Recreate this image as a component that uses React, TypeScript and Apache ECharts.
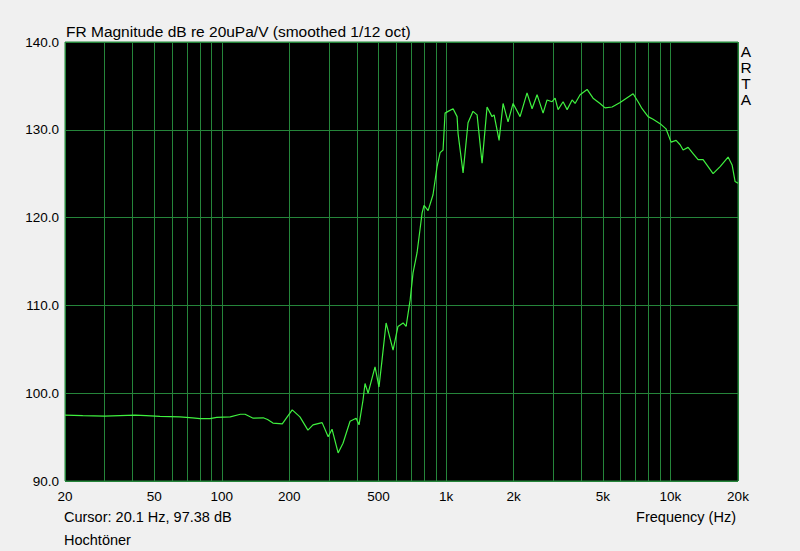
import React, { useEffect, useRef } from "react";
import * as echarts from "echarts";

// Frequency response (Hz -> dB re 20uPa/V)
const freqHz = [
  20, 24, 30, 41, 46, 53, 65, 74, 80, 88.6, 95, 109, 121, 127, 138, 153, 160, 169, 186,
  206, 223, 242, 255, 280, 298, 310, 330, 347, 373, 397, 409, 426, 435, 449, 482, 502,
  518, 540, 580, 610, 643, 663, 691, 712, 742, 781, 797, 831, 874, 911, 940, 969, 989,
  1020, 1074, 1119, 1130, 1190, 1252, 1318, 1374, 1446, 1522, 1602, 1636, 1722, 1794,
  1888, 1988, 2136, 2294, 2416, 2543, 2705, 2818, 2966, 3060, 3155, 3322, 3462, 3644,
  3757, 3955, 4250, 4518, 4853, 5110, 5492, 5964, 6815, 7172, 7472, 7946, 8366, 8989,
  9561, 10061, 10594, 11040, 11385, 11984, 12614, 13278, 13977, 14713, 15488, 16648,
  18068, 18826, 19414, 20000,
];
const magDb = [
  97.5, 97.45, 97.4, 97.5, 97.45, 97.35, 97.3, 97.2, 97.1, 97.1, 97.25, 97.3, 97.6, 97.6,
  97.15, 97.2, 97.0, 96.6, 96.5, 98.1, 97.3, 95.8, 96.4, 96.65, 95.05, 95.9, 93.2, 94.3,
  96.8, 97.15, 96.4, 99.2, 101.1, 100.0, 103.0, 100.7, 103.8, 108.0, 104.9, 107.6, 108.0,
  107.6, 110.6, 113.7, 116.0, 120.5, 121.4, 120.8, 122.6, 125.8, 127.4, 127.7, 131.9, 132.1,
  132.4, 131.5, 129.6, 125.1, 130.8, 132.1, 131.7, 126.2, 132.6, 131.5, 131.7, 128.8, 133.0,
  130.9, 133.0, 131.5, 134.2, 132.4, 134.0, 131.9, 133.4, 133.2, 133.6, 132.3, 133.2, 132.3,
  133.4, 133.0, 134.0, 134.6, 133.6, 133.0, 132.5, 132.6, 133.1, 134.1, 133.2, 132.4, 131.5,
  131.2, 130.7, 130.1, 128.6, 128.8, 128.3, 127.7, 128.0, 127.3, 126.6, 126.6, 125.8, 125.0,
  125.8, 126.9, 126.0, 124.1, 123.9,
];

const gridFreqs = [
  20, 30, 40, 50, 60, 70, 80, 90, 100, 200, 300, 400, 500, 600, 700, 800, 900, 1000, 2000,
  3000, 4000, 5000, 6000, 7000, 8000, 9000, 10000, 20000,
];
const labelFreqs = [20, 50, 100, 200, 500, 1000, 2000, 5000, 10000, 20000];

const titleText = "FR Magnitude dB re 20uPa/V (smoothed 1/12 oct)";
const cursorText = "Cursor: 20.1 Hz, 97.38 dB";
const nameText = "Hochtöner";
const xAxisName = "Frequency (Hz)";
const brandText = "A\nR\nT\nA";

const FONT = "'Liberation Sans', Arial, sans-serif";
const GRID_GREEN = "#25853a";
const CURVE = "#3ff03f";

export default function App() {
  const ref = useRef<HTMLDivElement>(null);
  useEffect(() => {
    const chart = echarts.init(ref.current as HTMLDivElement, null, { renderer: "svg" });
    const data = freqHz.map((f, i) => [f, magDb[i]]);
    chart.setOption({
      animation: false,
      backgroundColor: "#f0f0f0",
      textStyle: { fontFamily: FONT },
      title: {
        text: titleText,
        left: 66,
        top: 23,
        padding: 0,
        textStyle: { fontSize: 15.5, fontWeight: "normal", color: "#000", fontFamily: FONT },
      },
      grid: {
        left: 65,
        top: 42,
        width: 673,
        height: 439,
        show: true,
        backgroundColor: "#000",
        borderColor: GRID_GREEN,
        borderWidth: 1,
        containLabel: false,
      },
      xAxis: {
        type: "log",
        logBase: 10,
        min: 20,
        max: 20000,
        axisLine: { show: false },
        axisTick: { show: false, customValues: gridFreqs },
        axisLabel: {
          customValues: labelFreqs,
          formatter: (v: number) => (v >= 1000 ? v / 1000 + "k" : String(v)),
          margin: 8,
          fontSize: 13.5,
          color: "#000",
          fontFamily: FONT,
        },
        splitLine: { show: true, lineStyle: { color: GRID_GREEN, width: 1 } },
      },
      yAxis: {
        type: "value",
        min: 90,
        max: 140,
        interval: 10,
        axisLine: { show: false },
        axisTick: { show: false },
        axisLabel: {
          formatter: (v: number) => v.toFixed(1),
          margin: 6,
          fontSize: 13.5,
          color: "#000",
          fontFamily: FONT,
        },
        splitLine: { show: true, lineStyle: { color: GRID_GREEN, width: 1 } },
      },
      series: [
        {
          type: "line",
          data,
          symbol: "none",
          showSymbol: false,
          smooth: false,
          clip: true,
          lineStyle: { color: CURVE, width: 1.2 },
        },
      ],
      graphic: [
        {
          type: "text",
          x: 64,
          y: 517,
          style: { text: cursorText, font: `14.5px ${FONT}`, fill: "#000", align: "left", verticalAlign: "middle" },
        },
        {
          type: "text",
          x: 64,
          y: 539.5,
          style: { text: nameText, font: `14.5px ${FONT}`, fill: "#000", align: "left", verticalAlign: "middle" },
        },
        {
          type: "text",
          x: 736,
          y: 517,
          style: { text: xAxisName, font: `14.5px ${FONT}`, fill: "#000", align: "right", verticalAlign: "middle" },
        },
        {
          type: "text",
          x: 746,
          y: 75,
          style: {
            text: brandText,
            font: `15.5px ${FONT}`,
            lineHeight: 16,
            fill: "#000",
            align: "center",
            verticalAlign: "middle",
          },
        },
      ],
    });
    return () => chart.dispose();
  }, []);
  return <div ref={ref} style={{ position: "fixed", left: 0, top: 0, width: 800, height: 551 }} />;
}
